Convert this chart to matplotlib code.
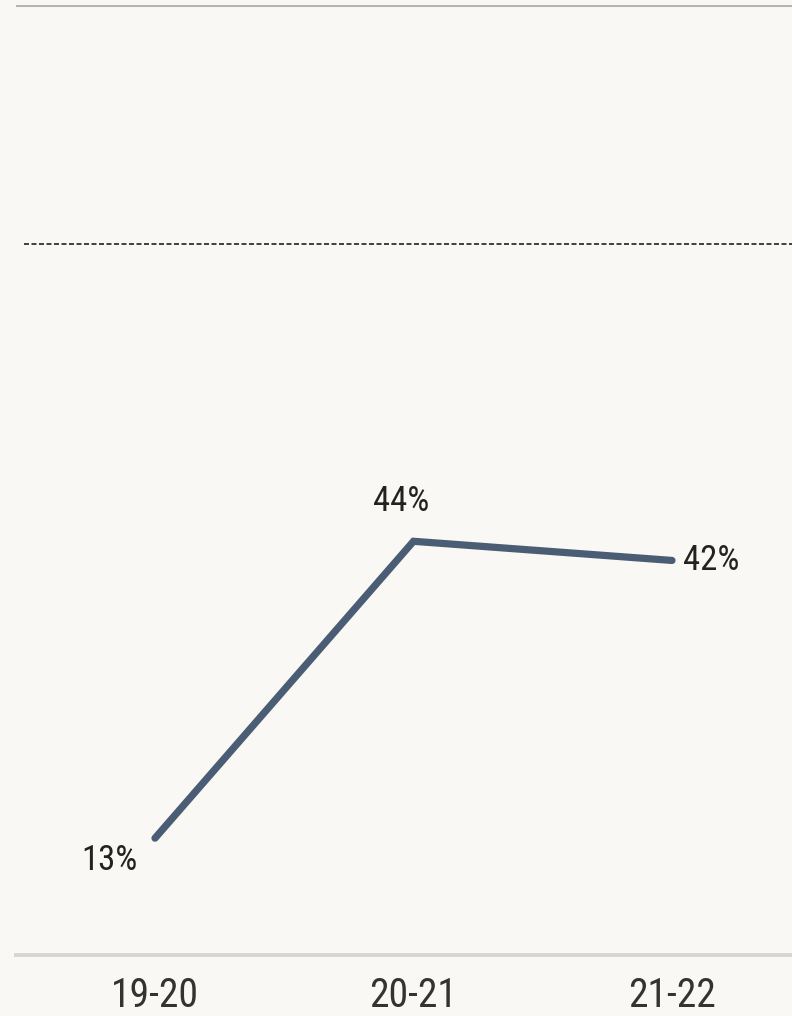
import matplotlib
matplotlib.use("Agg")
from matplotlib import pyplot as plt
import matplotlib.font_manager as fm

seasons = ["19-20", "20-21", "21-22"]
share = [13, 44, 42]
reference_level = 75

# condensed face if there is one, otherwise DejaVu Sans Condensed
names = {f.name for f in fm.fontManager.ttflist}
if "Roboto Condensed" in names:
    font, stretch = "Roboto Condensed", "normal"
else:
    font, stretch = "DejaVu Sans", "condensed"
plt.rcParams["font.family"] = [font, "DejaVu Sans"]
plt.rcParams["font.stretch"] = stretch

bg = "#f9f8f4"
fig = plt.figure(figsize=(7.92, 10.16), dpi=100, facecolor=bg)
ax = fig.add_axes([16 / 792, 1 - 955 / 1016, 1 - 16 / 792 + 0.02, (955 - 5) / 1016])
ax.set_facecolor(bg)

x = list(range(len(seasons)))
ax.plot(x, share, color="#4a5d74", lw=5.2, solid_capstyle="round", solid_joinstyle="miter", zorder=3)

ax.axhline(100, color="#b4b4b0", lw=2.2, zorder=1)
ax.axhline(reference_level, color="#222222", lw=1.2, ls=(0, (3, 1.5)), xmin=0.01, zorder=1)

# ~258 px between seasons, first season at x=155 px
ax.set_xlim(-(155 - 16) / 258.5, -(155 - 16) / 258.5 + (792 - 16 + 0.02 * 792) / 258.5)
ax.set_ylim(0.8, 100)

for s in ["top", "right", "left"]:
    ax.spines[s].set_visible(False)
ax.spines["bottom"].set_color("#d6d6d2")
ax.spines["bottom"].set_linewidth(2.8)
ax.set_yticks([])
ax.set_xticks(x)
ax.set_xticklabels(seasons, fontsize=28.5, color="#333333")
ax.tick_params(axis="x", length=0, pad=15)

# value labels
txt = dict(textcoords="offset points", va="center", fontsize=25, color="#222222")
ax.annotate(f"{share[0]}%", (x[0], share[0]), xytext=(-33, -16), ha="center", **txt)
ax.annotate(f"{share[1]}%", (x[1], share[1]), xytext=(-9, 29), ha="center", **txt)
ax.annotate(f"{share[2]}%", (x[2], share[2]), xytext=(8, 0), ha="left", **txt)

fig.savefig("out.png", dpi=100, facecolor=bg)
